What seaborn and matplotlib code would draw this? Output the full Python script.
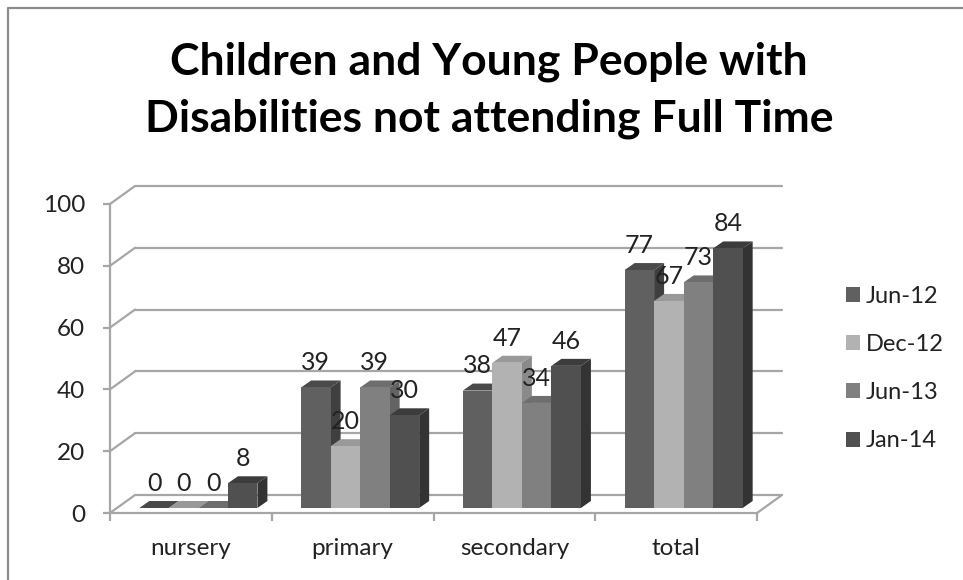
import matplotlib
matplotlib.use("Agg")
import matplotlib.pyplot as plt
from matplotlib.lines import Line2D
from matplotlib.patches import Polygon
from matplotlib.transforms import Affine2D, IdentityTransform
import pandas as pd
import seaborn as sns

categories = ["nursery", "primary", "secondary", "total"]
periods = ["Jun-12", "Dec-12", "Jun-13", "Jan-14"]
jun_12 = [0, 39, 38, 77]
dec_12 = [0, 20, 47, 67]
jun_13 = [0, 39, 34, 73]
jan_14 = [8, 30, 46, 84]
y_ticks = [0, 20, 40, 60, 80, 100]

front_colors = ["#606060", "#b2b2b2", "#808080", "#505050"]
side_colors = ["#3f3f3f", "#8a8a8a", "#636363", "#333333"]
top_colors = ["#4a4a4a", "#999999", "#6e6e6e", "#3c3c3c"]
grid_color = "#a6a6a6"

rows = []
for period, values in zip(periods, [jun_12, dec_12, jun_13, jan_14]):
    for cat, v in zip(categories, values):
        rows.append({"category": cat, "period": period, "value": v})
df = pd.DataFrame(rows)

sns.set_theme(style="white")
plt.rcParams["font.family"] = ["Lato", "DejaVu Sans"]

fig = plt.figure(figsize=(9.63, 5.8), dpi=100)
ax = fig.add_axes([110 / 963, 67 / 580, 647 / 963, 309 / 580])
ax.patch.set_alpha(0)

sns.barplot(data=df, x="category", y="value", hue="period", order=categories,
            hue_order=periods, palette=front_colors, width=0.73, gap=0,
            saturation=1, linewidth=0, ax=ax)
ax.set_xlim(-0.5, 3.5)
ax.set_ylim(0, 100)
ax.set_xlabel("")
ax.set_ylabel("")

# fake 3d: everything is shifted in pixels from the front plane
bar_shift = ax.transData + Affine2D().translate(7.5, 5)
back_shift = ax.transData + Affine2D().translate(25, 18)
depth_x = 10 / (647 / 4)
depth_y = 7 / 3.09

# back wall and floor
for t in y_ticks:
    ax.plot([-0.5, 3.5], [t, t], color=grid_color, lw=1.6, transform=back_shift,
            clip_on=False, zorder=0.5)
    ax.add_line(Line2D([110, 135], [67 + t * 3.09, 85 + t * 3.09], color=grid_color, lw=1.6,
                       transform=IdentityTransform(), zorder=0.5, clip_on=False))
ax.add_line(Line2D([757, 782], [67, 85], color=grid_color, lw=1.6,
                   transform=IdentityTransform(), zorder=0.5, clip_on=False))

for i, container in enumerate(ax.containers):
    for patch in container.patches:
        x0 = patch.get_x()
        x1 = x0 + patch.get_width()
        h = patch.get_height()
        z = 2 + i * 0.1
        patch.set_transform(bar_shift)
        patch.set_zorder(z)
        patch.set_clip_on(False)
        side = Polygon([(x1, 0), (x1 + depth_x, depth_y), (x1 + depth_x, h + depth_y), (x1, h)],
                       closed=True, fc=side_colors[i], ec="none", transform=bar_shift,
                       zorder=z - 0.01, clip_on=False)
        top = Polygon([(x0, h), (x0 + depth_x, h + depth_y), (x1 + depth_x, h + depth_y), (x1, h)],
                      closed=True, fc=top_colors[i], ec="none", transform=bar_shift,
                      zorder=z - 0.01, clip_on=False)
        ax.add_patch(side)
        ax.add_patch(top)
        ax.annotate(f"{h:.0f}", xy=((x0 + x1) / 2, h), xycoords=bar_shift,
                    xytext=(0, 9.5), textcoords="offset points", ha="center",
                    va="bottom", fontsize=18, color="#222222", zorder=5,
                    annotation_clip=False)

# axes lines and ticks
for side_name in ["top", "right"]:
    ax.spines[side_name].set_visible(False)
for side_name in ["left", "bottom"]:
    ax.spines[side_name].set_color(grid_color)
    ax.spines[side_name].set_linewidth(1.6)
    ax.spines[side_name].set_zorder(1)
ax.set_yticks(y_ticks)
ax.set_xticks([-0.5, 0.5, 1.5, 2.5, 3.5], labels=[])
ax.set_xticks([0, 1, 2, 3], labels=categories, minor=True)
ax.tick_params(axis="y", which="major", left=True, length=5, width=1.6, color=grid_color,
               labelsize=17.5, labelcolor="#222222", pad=13)
ax.tick_params(axis="x", which="major", bottom=True, length=6, width=1.6, color=grid_color)
ax.tick_params(axis="x", which="minor", bottom=False, length=0, labelsize=17.5,
               labelcolor="#222222", pad=18)

sns.move_legend(ax, "upper left", bbox_to_anchor=(846 / 963, 1 - 286 / 580),
                bbox_transform=fig.transFigure, frameon=False, title=None,
                fontsize=17, handlelength=0.6, handleheight=0.6,
                handletextpad=0.25, labelspacing=1.15, labelcolor="#222222",
                borderpad=0, borderaxespad=0)

fig.text(489 / 963, 1 - 62 / 580, "Children and Young People with", ha="center", va="center",
         fontsize=32, fontweight="bold", color="black")
fig.text(489 / 963, 1 - 119 / 580, "Disabilities not attending Full Time", ha="center", va="center",
         fontsize=32, fontweight="bold", color="black")

# picture frame
fig.add_artist(Line2D([8 / 963, 8 / 963, 1], [0, 1 - 8 / 580, 1 - 8 / 580], color="#8c8c8c", lw=1.6))

fig.savefig("out.png", dpi=100)
